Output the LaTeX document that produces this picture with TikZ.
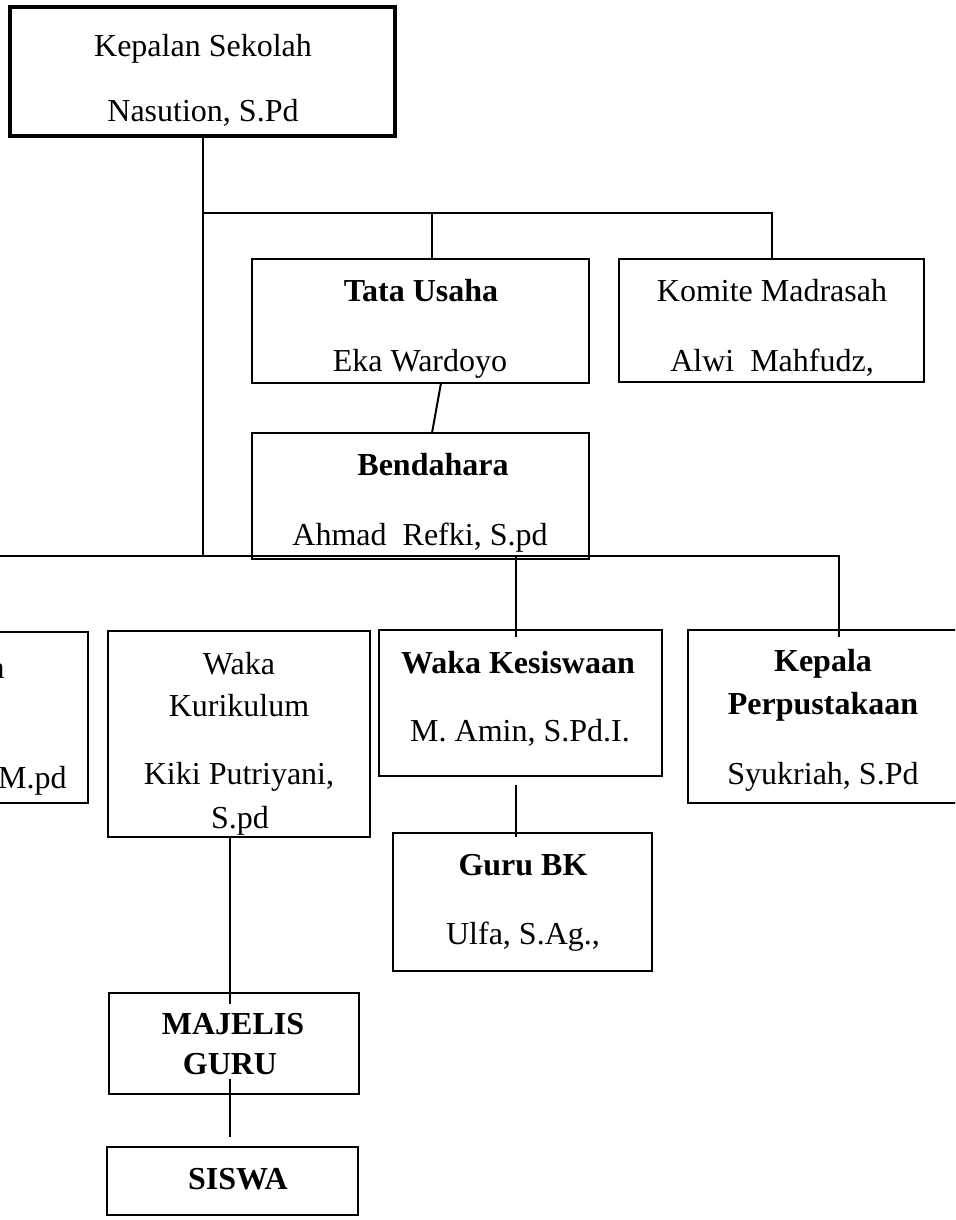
\documentclass[tikz,border=0pt]{standalone}
\usepackage{fontspec}
\setmainfont{Liberation Serif}
\usetikzlibrary{fit}
\tikzset{
  orgbox/.style={draw, line width=1pt, inner sep=0pt, rectangle},
  headbox/.style={draw, line width=2.3pt, inner sep=0pt, rectangle},
  txt/.style={inner sep=0pt, text height=0.68em, text depth=0pt, yshift=-2.5pt, font=\fontsize{16}{19}\selectfont},
  btxt/.style={txt, font=\fontsize{16}{19}\selectfont\bfseries},
  conn/.style={line width=1pt}
}
\begin{document}
\begin{tikzpicture}[x=0.5pt,y=-0.5pt]
\path[use as bounding box] (0,0) rectangle (955,1220);
\fill[white] (0,0) rectangle (955,1220);
\clip (0,0) rectangle (955,1220);

% boxes
\node[headbox, fit={(10,7)(395,136)}] (ks) {};
\node[orgbox, fit={(252,259)(589,383)}] (tu) {};
\node[orgbox, fit={(619,259)(924,382)}] (km) {};
\node[orgbox, fit={(252,433)(589,559)}] (bd) {};
\node[orgbox, fit={(-100,632)(88,803)}] (lb) {};
\node[orgbox, fit={(108,631)(370,837)}] (wk) {};
\node[orgbox, fit={(379,630)(662,776)}] (ws) {};
\node[orgbox, fit={(688,630)(962,803)}] (kp) {};
\node[orgbox, fit={(393,833)(652,971)}] (bk) {};
\node[orgbox, fit={(109,993)(359,1094)}] (mg) {};
\node[orgbox, fit={(107,1147)(358,1215)}] (sw) {};

% texts
\node[txt] (t1) at (203,45) {Kepalan Sekolah};
\node[txt] (t2) at (203,110) {Nasution, S.Pd};
\node[btxt] (t3) at (421,290) {Tata Usaha};
\node[txt] (t4) at (420,360) {Eka Wardoyo};
\node[txt] (t5) at (772,290) {Komite Madrasah};
\node[txt] (t6) at (772,360) {Alwi~~Mahfudz,};
\node[btxt] (t7) at (433,464) {Bendahara};
\node[txt] (t8) at (420,534) {Ahmad~~Refki, S.pd};
\node[txt, anchor=east] (t9) at (5,667) {a};
\node[txt, anchor=east] (t10) at (67,777) {M.pd};
\node[txt] (t11) at (239,663) {Waka};
\node[txt] (t12) at (239,705) {Kurikulum};
\node[txt] (t13) at (239,773) {Kiki Putriyani,};
\begin{scope}
\clip (108,631) rectangle (370,836);
\node[txt] (t14) at (240,817) {S.pd};
\end{scope}
\node[btxt] (t15) at (518,662) {Waka Kesiswaan};
\node[txt] (t16) at (520,730) {M. Amin, S.Pd.I.};
\node[btxt] (t17) at (823,660) {Kepala};
\node[btxt] (t18) at (823,703) {Perpustakaan};
\node[txt] (t19) at (823,773) {Syukriah, S.Pd};
\node[btxt] (t20) at (523,864) {Guru BK};
\node[txt] (t21) at (523,933) {Ulfa, S.Ag.,};
\node[btxt] (t22) at (233,1023) {MAJELIS};
\node[btxt] (t23) at (230,1063) {GURU};
\node[btxt] (t24) at (238,1178) {SISWA};

% junction coordinates
\coordinate (h1) at (203,213);
\coordinate (h2) at (432,213);
\coordinate (h3) at (772,213);
\coordinate (d1) at (441,383);
\coordinate (d2) at (432,433);
\coordinate (l0) at (0,556);
\coordinate (l1) at (203,556);
\coordinate (l2) at (516,556);
\coordinate (l3) at (839,556);
\coordinate (g1) at (516,785);
\coordinate (g2) at (516,837);
\coordinate (m1) at (230,837);
\coordinate (m2) at (230,1004);
\coordinate (s1) at (230,1079);
\coordinate (s2) at (230,1137);
\coordinate (w1) at (516,637);
\coordinate (w2) at (839,637);

% connectors
\draw[conn] (ks.south -| h1) -- (l1);
\draw[conn] (h1) -- (h3) -- (h3 |- km.north);
\draw[conn] (h2) -- (h2 |- tu.north);
\draw[conn] (d1) -- (d2);
\draw[conn] (l0) -- (l3) -- (w2);
\draw[conn] (l2) -- (w1);
\draw[conn] (g1) -- (g2);
\draw[conn] (m1) -- (m2);
\draw[conn] (s1) -- (s2);
\end{tikzpicture}
\end{document}
